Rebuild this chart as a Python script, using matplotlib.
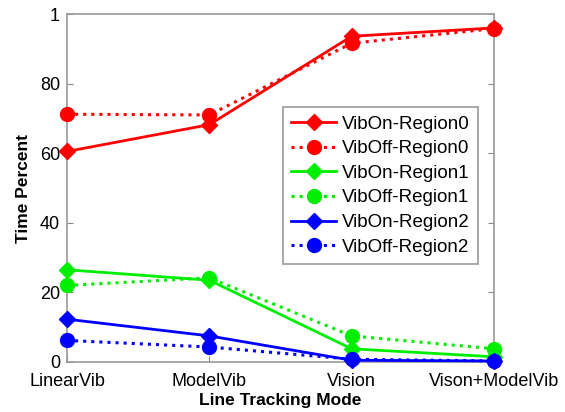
import matplotlib.pyplot as plt
from matplotlib.ticker import FixedLocator, FixedFormatter

plt.rcParams['font.family'] = ['Liberation Sans', 'DejaVu Sans']

# tracking modes on x axis
modes = ['LinearVib', 'ModelVib', 'Vision', 'Vison+ModelVib']
xpos = [1, 2, 3, 4]

# time percent per region
vibon_r0 = [60.5, 68.2, 93.6, 96.0]
viboff_r0 = [71.2, 71.0, 91.6, 95.8]
vibon_r1 = [26.5, 23.5, 3.8, 1.5]
viboff_r1 = [22.0, 24.2, 7.5, 3.8]
vibon_r2 = [12.3, 7.5, 0.5, 0.3]
viboff_r2 = [6.2, 4.3, 0.8, 0.3]

fig = plt.figure(figsize=(5.65, 4.12), dpi=100)
ax = fig.add_axes([67/565, 1 - 362/412, (494 - 67)/565, (362 - 14)/412])

series = [
    (vibon_r0, viboff_r0, '#ff0000', 'Region0'),
    (vibon_r1, viboff_r1, '#00ee00', 'Region1'),
    (vibon_r2, viboff_r2, '#0000ff', 'Region2'),
]
for on, off, c, name in series:
    ax.plot(xpos, on, '-', color=c, lw=2, marker='D', ms=8.5, label='VibOn-' + name, clip_on=False, zorder=3)
    ax.plot(xpos, off, ':', color=c, lw=2.2, marker='o', ms=10, label='VibOff-' + name, clip_on=False, zorder=3)

ax.set_xlim(1, 4)
ax.set_ylim(0, 100)
ax.set_xticks(xpos)
ax.set_xticklabels(modes, fontsize=13)
ax.yaxis.set_major_locator(FixedLocator([0, 20, 40, 60, 80, 100]))
ax.yaxis.set_major_formatter(FixedFormatter(['0', '20', '40', '60', '80', '1']))
ax.tick_params(axis='y', labelsize=13, pad=5)
ax.tick_params(axis='x', pad=8)
ax.tick_params(direction='in', top=False, right=True, length=4, color='#888888')
for s in ax.spines.values():
    s.set_color('#999999')
    s.set_linewidth(1.2)

ax.set_xlabel('Line Tracking Mode', fontsize=12.5, fontweight='bold', labelpad=2)
ax.set_ylabel('Time Percent', fontsize=12.5, fontweight='bold', labelpad=6)

leg = ax.legend(loc='upper left', bbox_to_anchor=((283 - 67)/427, 1 - (107 - 14)/348),
                fontsize=13.5, fancybox=False, framealpha=1, borderaxespad=0,
                handlelength=2.4, labelspacing=0.4, borderpad=0.45, handletextpad=0.3)
leg.get_frame().set_edgecolor('#999999')
leg.get_frame().set_linewidth(1.2)

fig.savefig('out.png', dpi=100)
